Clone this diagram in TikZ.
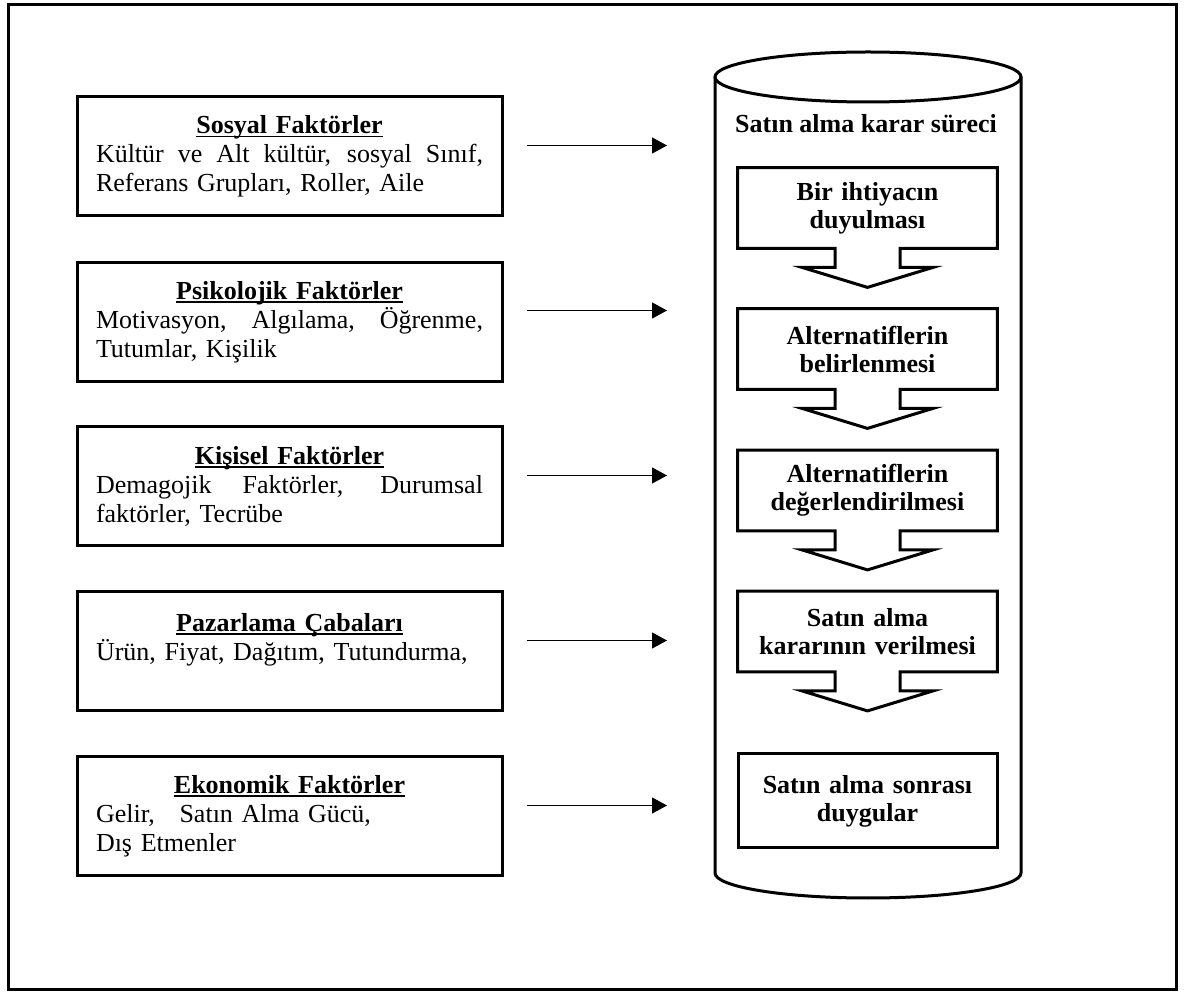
\documentclass[tikz,border=0pt]{standalone}
\usepackage{fontspec}
\setmainfont{Liberation Serif}
\usetikzlibrary{arrows.meta,calc}
\newlength\factw
\setlength\factw{193.5pt}
\newcommand\ulword[1]{\sbox0{#1}\rlap{\rule[-1.7pt]{\wd0}{0.8pt}}\usebox0}
\newcommand\facttitle[1]{\makebox[\factw]{\ulword{\textbf{#1}}}}
\newcommand\justline[1]{\makebox[\factw][s]{\spaceskip=0pt\xspaceskip=0pt\relax #1}}
% box with the down arrow below it
\newcommand\procarrow[1]{%
  \draw[procline] (#1.south west) -- (#1.north west) -- (#1.north east) -- (#1.south east)
    -- ($(#1.south)+(32.5,0)$) -- ($(#1.south)+(32.5,19)$) -- ($(#1.south)+(65.5,19)$)
    -- ($(#1.south)+(0,39)$) -- ($(#1.south)+(-65.5,19)$) -- ($(#1.south)+(-32.5,19)$)
    -- ($(#1.south)+(-32.5,0)$) -- cycle;}
\tikzset{
  factbox/.style={draw, line width=1.5pt, minimum height=59.5pt, text width=\factw, inner xsep=9.5pt, inner ysep=0pt, align=left, font=\fontsize{13}{14.5}\selectfont},
  procbox/.style={minimum width=129.5pt, minimum height=40pt, text width=124pt, inner sep=0pt, align=center, font=\fontsize{13}{14}\selectfont\bfseries},
  procline/.style={line width=1.5pt, line join=miter},
  flow/.style={-{Triangle[length=7.5pt,width=8pt]}, line width=0.6pt}
}

\begin{document}
\begin{tikzpicture}[x=0.5pt,y=-0.5pt]
\useasboundingbox (0,0) rectangle (1185,994);
\draw[line width=1.6pt] (8.5,4.5) rectangle (1176.5,989.5);

% Factors
\node[factbox] (f1) at (289.5,156.5) {\facttitle{Sosyal Faktörler}\\\justline{Kültür ve Alt kültür, sosyal Sınıf,}\\Referans Grupları, Roller, Aile};
\node[factbox] (f2) at (289.5,322) {\facttitle{Psikolojik Faktörler}\\\justline{Motivasyon, Algılama, Öğrenme,}\\Tutumlar, Kişilik};
\node[factbox] (f3) at (289.5,486.5) {\facttitle{Kişisel Faktörler}\\\justline{Demagojik Faktörler, Durumsal}\\faktörler, Tecrübe};
\node[factbox] (f4) at (289.5,651.5) {\facttitle{Pazarlama Çabaları}\\Ürün, Fiyat, Dağıtım, Tutundurma,\\\mbox{}};
\node[factbox] (f5) at (289.5,816) {\facttitle{Ekonomik Faktörler}\\Gelir,\hspace{8pt} Satın Alma Gücü,\\Dış Etmenler};

% Cylinder
\draw[procline] (715,77) -- (715,873) arc[start angle=180, end angle=360, x radius=76.5pt, y radius=12.5pt] -- (1021,77);
\draw[procline] (868,77) ellipse[x radius=76.5pt, y radius=12.5pt];
\node[anchor=base, font=\fontsize{13}{14}\selectfont\bfseries] (ttl) at (866,133) {Satın alma karar süreci};

% Decision steps
\node[procbox] (p1) at (867.5,208) {Bir ihtiyacın\\duyulması};
\node[procbox] (p2) at (867.5,349) {Alternatiflerin\\belirlenmesi};
\node[procbox] (p3) at (867.5,490.5) {Alternatiflerin\\değerlendirilmesi};
\node[procbox] (p4) at (867.5,631.5) {Satın alma\\kararının verilmesi};
\node[procbox, draw, procline, minimum height=47pt] (p5) at (867.5,801) {Satın alma sonrası\\duygular\\[4pt]};
\procarrow{p1}
\procarrow{p2}
\procarrow{p3}
\procarrow{p4}

% Arrows into the cylinder
\coordinate (t1) at (667,145.5);
\coordinate (t2) at (667,310.5);
\coordinate (t3) at (667,475.5);
\coordinate (t4) at (667,640.5);
\coordinate (t5) at (667,805.5);
\draw[flow, shorten <=11.5pt] (f1.east |- t1) -- (t1);
\draw[flow, shorten <=11.5pt] (f2.east |- t2) -- (t2);
\draw[flow, shorten <=11.5pt] (f3.east |- t3) -- (t3);
\draw[flow, shorten <=11.5pt] (f4.east |- t4) -- (t4);
\draw[flow, shorten <=11.5pt] (f5.east |- t5) -- (t5);
\end{tikzpicture}
\end{document}
